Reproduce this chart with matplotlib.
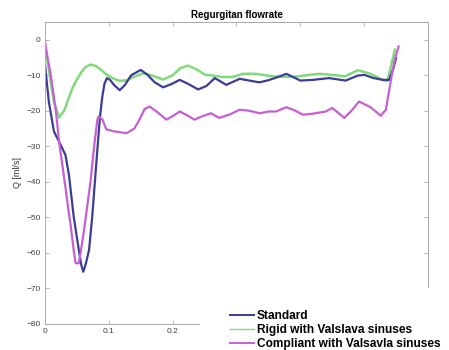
import matplotlib.pyplot as plt
from matplotlib.lines import Line2D
from matplotlib.patches import Rectangle

plt.rcParams['font.family'] = ['Liberation Sans', 'DejaVu Sans']

# --- data ---
t_std = [0, 0.006, 0.014, 0.0245, 0.032, 0.0375, 0.045, 0.053, 0.057, 0.060, 0.064, 0.069,
         0.074, 0.078, 0.082, 0.086, 0.0895, 0.093, 0.097, 0.102, 0.108, 0.117, 0.125, 0.135,
         0.150, 0.160, 0.172, 0.185, 0.198, 0.211, 0.224, 0.240, 0.253, 0.266, 0.284, 0.305,
         0.320, 0.336, 0.350, 0.365, 0.378, 0.390, 0.400, 0.420, 0.445, 0.471, 0.490, 0.500,
         0.515, 0.529, 0.539, 0.545, 0.550]
q_std = [-7, -17.4, -25.8, -29.6, -32.4, -38, -49.8, -59.2, -63.5, -65.3, -63, -59.2,
         -49.8, -40.4, -31, -22, -16.4, -12.5, -10.8, -11.3, -12.7, -14.2, -12.8, -10,
         -8.5, -9.8, -12, -13.4, -12.5, -11.3, -12.4, -14, -13, -10.8, -12.7, -11,
         -11.5, -12, -11.4, -10.5, -9.6, -10.6, -11.5, -11.3, -10.8, -11.5, -10.1, -9.9,
         -10.8, -11.3, -11.3, -8.5, -5.2]

t_rig = [0, 0.005, 0.009, 0.014, 0.0219, 0.030, 0.036, 0.043, 0.050, 0.056, 0.063, 0.071,
         0.080, 0.090, 0.097, 0.108, 0.117, 0.128, 0.140, 0.155, 0.168, 0.185, 0.200, 0.212,
         0.224, 0.237, 0.250, 0.263, 0.278, 0.294, 0.310, 0.330, 0.357, 0.388, 0.410, 0.430,
         0.450, 0.470, 0.490, 0.510, 0.529, 0.536, 0.542, 0.548]
q_rig = [-2, -7, -12, -17.4, -21.9, -20, -17, -13.6, -11.2, -9.4, -7.8, -7,
         -7.4, -8.8, -9.9, -11, -11.6, -11.4, -10.4, -9.4, -10.1, -11.2, -10, -8,
         -7.3, -8.3, -9.8, -10.1, -10.5, -10.5, -9.6, -9.6, -10.3, -10.5, -10, -9.6,
         -9.9, -10.3, -8.6, -9.6, -11.3, -11.7, -7.5, -2.8]

t_cmp = [0, 0.004, 0.009, 0.017, 0.022, 0.027, 0.032, 0.036, 0.040, 0.045, 0.048, 0.053,
         0.056, 0.060, 0.064, 0.071, 0.077, 0.082, 0.084, 0.090, 0.096, 0.108, 0.128, 0.140,
         0.148, 0.156, 0.164, 0.177, 0.190, 0.200, 0.211, 0.222, 0.234, 0.247, 0.260, 0.273,
         0.290, 0.305, 0.320, 0.336, 0.350, 0.362, 0.378, 0.390, 0.404, 0.420, 0.440, 0.450,
         0.469, 0.480, 0.492, 0.510, 0.526, 0.534, 0.542, 0.548, 0.554]
q_cmp = [-0.5, -5, -9.9, -20, -28.5, -35, -41.5, -47, -52, -59.2, -62.9, -62.9,
         -59.6, -55, -49.8, -40.4, -30, -22.5, -21.6, -22.5, -25.2, -25.8, -26.3, -25,
         -22.5, -19.5, -18.8, -20.5, -22.5, -21.5, -20.2, -21.2, -22.5, -21.5, -20.7, -22,
         -21, -19.7, -20, -20.7, -20.2, -20.2, -19, -19.8, -21.1, -20.8, -20.2, -19.2,
         -22, -20, -17.4, -19, -21.4, -19.7, -11.3, -5.5, -1.9]

labels = ['Standard', 'Rigid with Valslava sinuses', 'Compliant with Valsavla sinuses']
colors = ['#3b3d96', '#80d97b', '#c65fd3']

x_ticks = [0, 0.1, 0.2, 0.3, 0.4, 0.5, 0.6]
# labels from 0.3 on sit under the legend in the reference, so they stay blank
x_ticklabels = ['0', '0.1', '0.2', '', '', '', '']
y_ticks = [-80, -70, -60, -50, -40, -30, -20, -10, 0]

# --- figure ---
fig = plt.figure(figsize=(4.49, 3.5), dpi=100)
ax = fig.add_axes([0.1002, 0.0743, 0.853, 0.863])

ax.plot(t_rig, q_rig, color=colors[1], lw=1.8)
ax.plot(t_std, q_std, color=colors[0], lw=1.6)
ax.plot(t_cmp, q_cmp, color=colors[2], lw=1.6)

ax.set_xlim(0, 0.6)
ax.set_ylim(-80, 5)
ax.set_xticks(x_ticks)
ax.set_xticklabels(x_ticklabels)
ax.set_yticks(y_ticks)
ax.tick_params(direction='in', top=True, right=True, length=3, width=0.6,
               color='#aaaaaa', labelcolor='#444444', labelsize=6, pad=3)
for s in ax.spines.values():
    s.set_color('#aaaaaa')
    s.set_linewidth(0.7)

ax.set_title('Regurgitan flowrate', fontsize=7, fontweight='bold', pad=3)
ax.set_ylabel('Q [ml/s]', fontsize=6.5, color='#333333', labelpad=3)

# white block under the legend (legend covers the lower right corner of the axes)
fig.patches.append(Rectangle((200 / 449, 0), 1, 62 / 350, transform=fig.transFigure,
                             facecolor='white', edgecolor='none', zorder=3))

handles = [Line2D([], [], color=colors[0], lw=1.4),
           Line2D([], [], color=colors[1], lw=1.0),
           Line2D([], [], color=colors[2], lw=1.4)]
leg = fig.legend(handles, labels, loc='upper left', bbox_to_anchor=(230 / 449, 40 / 350),
                 frameon=False, prop={'weight': 'bold', 'size': 8.6},
                 handlelength=2.0, handletextpad=0.25, labelspacing=0.18,
                 borderpad=0, borderaxespad=0)
leg.set_zorder(4)

fig.savefig('out.png', dpi=100)
